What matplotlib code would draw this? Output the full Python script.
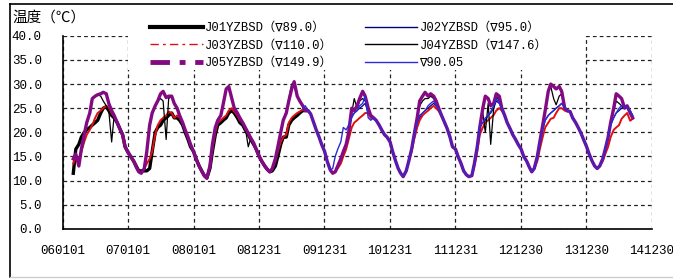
import numpy as np
import pandas as pd
import matplotlib
matplotlib.use('Agg')
import matplotlib.pyplot as plt
from matplotlib.lines import Line2D
from matplotlib.patches import Rectangle

# ------------------------------ data (semi-monthly readings, deg C) ------------------------------
ORIGIN = pd.Timestamp('2006-01-01')

# J01YZBSD (∇89.0), from 2006-03-01
J01_START = '2006-03-01'
J01 = [11.5, 16.5, 17.5, 19.0, 20.0, 20.5, 21.0, 21.5, 22.0, 22.5, 24.0, 25.0, 25.3, 24.5, 23.5, 23.0, 22.0, 20.8, 19.5, 17.0,
       15.8, 15.0, 14.0, 13.0, 12.0, 12.0, 12.0, 12.0, 12.5, 16.0, 20.0, 21.0, 21.5, 22.5, 23.0, 23.5, 24.0, 23.0, 23.0, 22.5, 21.5, 20.0, 18.5, 17.0,
       16.0, 14.5, 13.0, 12.0, 11.0, 10.5, 12.5, 16.0, 19.5, 21.5, 22.0, 22.5, 23.0, 24.0, 24.5, 24.0, 23.0, 22.0, 21.5, 20.5, 19.5, 18.5, 17.5, 16.5,
       15.0, 14.0, 13.0, 12.3, 11.8, 12.0, 13.0, 15.0, 17.5, 19.0, 19.0, 21.5, 22.5, 23.0, 23.5, 24.0, 24.5, 24.5]

# J02YZBSD (∇95.0), from 2010-01-01
J02_START = '2010-01-01'
J02 = [16.0, 14.0, 12.2, 11.5, 11.8, 13.0, 14.5, 16.0, 17.5, 20.0, 23.5, 24.0, 24.5, 25.0, 25.5, 26.0, 24.0, 23.0, 23.0, 22.5, 21.5, 20.5, 19.5, 19.0,
       18.0, 16.0, 14.0, 12.5, 11.5, 10.8, 12.0, 14.0, 16.5, 19.5, 22.0, 23.0, 24.0, 24.5, 25.0, 25.5, 26.0, 25.5, 24.8, 23.5, 22.0, 20.8, 19.0, 17.0,
       16.5, 15.0, 13.5, 12.0, 11.2, 10.8, 11.0, 13.5, 17.0, 21.0, 22.0, 22.5, 23.5, 24.0, 25.0, 26.5, 26.0, 25.0, 23.5, 22.0, 20.7, 19.5, 18.5, 17.5,
       16.5, 15.0, 14.0, 12.8, 11.8, 12.5, 15.0, 18.0, 20.5, 22.5, 23.5, 24.0, 24.5, 25.0, 25.5, 26.0, 25.0, 24.5, 24.3, 23.0, 22.0, 21.0, 19.8, 18.5,
       17.0, 15.5, 14.0, 13.0, 12.5, 13.0, 14.5, 16.5, 19.0, 21.5, 23.0, 24.0, 24.5, 25.0, 25.5, 25.0, 24.5, 23.5]

# J03YZBSD (∇110.0), from 2006-03-01
J03_START = '2006-03-01'
J03 = [13.5, 15.0, 14.0, 16.0, 18.0, 19.5, 20.5, 21.5, 23.0, 24.0, 24.5, 25.0, 25.5, 25.0, 24.0, 23.3, 22.0, 20.8, 19.5, 17.0,
       15.8, 15.0, 14.0, 12.8, 11.8, 11.5, 12.5, 13.5, 14.5, 16.0, 19.5, 21.5, 22.5, 23.0, 23.5, 24.3, 24.0, 23.0, 23.5, 23.0, 22.0, 20.5, 19.0, 17.5,
       16.0, 14.5, 13.0, 12.0, 11.0, 10.5, 13.0, 16.5, 20.0, 22.0, 22.5, 23.0, 23.5, 24.5, 25.0, 24.3, 23.5, 22.5, 22.0, 21.0, 19.8, 18.8, 17.8, 16.5,
       15.0, 14.0, 13.0, 12.3, 11.8, 12.3, 14.0, 16.0, 18.0, 19.0, 19.5, 22.0, 23.0, 23.5, 24.0, 24.3, 24.7, 24.5, 24.3, 23.8, 22.0, 20.5, 19.0, 17.5,
       16.0, 14.0, 12.2, 11.5, 11.8, 12.5, 13.5, 15.0, 16.5, 18.5, 21.0, 22.0, 22.5, 23.0, 23.5, 24.0, 24.0, 23.0, 23.0, 22.5, 21.5, 20.5, 19.5, 19.0,
       18.0, 16.0, 14.0, 12.5, 11.5, 10.8, 12.0, 14.0, 16.0, 18.5, 21.0, 22.5, 23.5, 24.0, 24.5, 25.0, 25.5, 25.0, 24.3, 23.3, 22.0, 20.8, 19.0, 17.0,
       16.5, 15.0, 13.5, 12.0, 11.2, 10.8, 11.0, 13.0, 16.0, 19.5, 21.0, 22.0, 22.5, 23.0, 23.6, 24.5, 25.0, 24.5, 23.5, 22.0, 20.7, 19.5, 18.5, 17.5,
       16.5, 15.0, 14.0, 12.8, 11.8, 12.5, 14.0, 16.5, 19.0, 21.0, 22.0, 22.8, 23.0, 24.0, 25.0, 25.0, 24.5, 24.3, 24.3, 23.0, 22.0, 21.0, 19.8, 18.5,
       17.0, 15.5, 14.0, 13.0, 12.5, 13.0, 14.0, 15.5, 17.0, 19.0, 20.5, 21.0, 21.5, 22.8, 23.5, 24.0, 22.4, 22.8]

# J04YZBSD (∇147.6), from 2006-03-01
J04_START = '2006-03-01'
J04 = [14.5, 15.5, 13.0, 16.5, 19.5, 22.0, 24.0, 27.0, 27.5, 27.8, 27.5, 26.5, 25.5, 24.5, 18.0, 23.5, 22.0, 20.8, 19.5, 17.0,
       15.8, 15.0, 14.0, 12.8, 11.8, 11.5, 12.5, 16.0, 21.5, 24.0, 25.5, 26.5, 27.0, 26.5, 18.5, 27.0, 27.5, 26.0, 25.0, 23.5, 22.0, 20.5, 19.0, 17.5,
       16.0, 14.5, 13.0, 12.0, 11.0, 10.5, 13.0, 17.5, 21.0, 22.5, 23.5, 26.0, 29.0, 29.0, 27.0, 25.0, 24.0, 23.0, 22.0, 21.0, 17.0, 18.8, 17.8, 16.5,
       15.0, 14.0, 13.0, 12.3, 11.8, 12.5, 14.5, 17.0, 20.0, 22.5, 24.0, 27.0, 30.0, 29.5, 27.5, 26.5, 25.5, 24.5, 24.5, 23.8, 22.0, 20.5, 19.0, 17.5,
       16.0, 14.0, 12.2, 11.5, 11.8, 13.0, 14.5, 16.0, 17.5, 20.0, 24.0, 27.0, 25.0, 26.5, 27.0, 26.5, 25.0, 23.5, 23.0, 22.5, 21.5, 20.5, 19.5, 19.0,
       18.0, 16.0, 14.0, 12.5, 11.5, 10.8, 12.0, 14.0, 16.5, 19.5, 23.0, 25.5, 26.5, 27.0, 27.0, 27.5, 27.0, 26.0, 24.8, 23.5, 22.0, 20.8, 19.0, 17.0,
       16.5, 15.0, 13.5, 12.0, 11.2, 10.8, 11.0, 13.5, 17.0, 21.0, 24.0, 20.0, 26.0, 17.5, 25.0, 27.5, 26.5, 25.0, 23.5, 22.0, 20.7, 19.5, 18.5, 17.5,
       16.5, 15.0, 14.0, 12.8, 11.8, 12.5, 15.0, 18.0, 21.5, 24.5, 28.5, 29.5, 27.0, 25.7, 27.5, 28.0, 25.0, 24.5, 24.3, 23.0, 22.0, 21.0, 19.8, 18.5,
       17.0, 15.5, 14.0, 13.0, 12.5, 13.0, 14.5, 16.5, 19.0, 22.0, 24.5, 26.5, 26.0, 25.5, 25.0, 25.0, 24.0, 23.0]

# J05YZBSD (∇149.9), from 2006-03-01
J05_START = '2006-03-01'
J05 = [14.5, 15.5, 13.0, 16.5, 19.5, 22.0, 24.0, 27.0, 27.5, 27.8, 28.0, 28.3, 28.0, 26.0, 24.5, 23.5, 22.0, 20.8, 19.5, 17.0,
       15.8, 15.0, 14.0, 12.8, 11.8, 11.5, 12.5, 16.0, 21.5, 24.0, 25.5, 26.5, 28.0, 28.5, 27.2, 27.5, 27.5, 26.0, 25.0, 23.5, 22.0, 20.5, 19.0, 17.5,
       16.0, 14.5, 13.0, 12.0, 11.0, 10.5, 13.0, 17.5, 21.0, 22.5, 23.5, 26.0, 29.0, 29.5, 27.0, 25.0, 24.0, 23.0, 22.0, 21.0, 19.8, 18.8, 17.8, 16.5,
       15.0, 14.0, 13.0, 12.3, 11.8, 12.5, 14.5, 17.0, 20.0, 22.5, 24.0, 26.5, 29.0, 30.5, 27.5, 26.5, 25.5, 24.5, 24.5, 23.8, 22.0, 20.5, 19.0, 17.5,
       16.0, 14.0, 12.2, 11.5, 11.8, 13.0, 14.5, 16.0, 17.5, 20.0, 25.0, 24.5, 25.5, 27.0, 28.5, 27.5, 25.0, 23.5, 23.0, 22.5, 21.5, 20.5, 19.5, 19.0,
       18.0, 16.0, 14.0, 12.5, 11.5, 10.8, 12.0, 14.0, 16.5, 19.5, 23.0, 26.5, 27.5, 28.3, 27.5, 28.0, 27.5, 26.5, 24.8, 23.5, 22.0, 20.8, 19.0, 17.0,
       16.5, 15.0, 13.5, 12.0, 11.2, 10.8, 11.0, 13.5, 17.0, 21.0, 25.0, 27.5, 27.0, 25.5, 26.0, 28.0, 27.5, 25.0, 23.5, 22.0, 20.7, 19.5, 18.5, 17.5,
       16.5, 15.0, 14.0, 12.8, 11.8, 12.5, 15.0, 18.0, 21.5, 24.5, 28.5, 30.0, 29.5, 29.0, 29.5, 28.5, 25.0, 24.5, 24.3, 23.0, 22.0, 21.0, 19.8, 18.5,
       17.0, 15.5, 14.0, 13.0, 12.5, 13.0, 14.5, 16.5, 19.0, 22.0, 25.0, 28.0, 27.5, 27.0, 25.0, 25.5, 24.0, 23.0]

# ∇90.05, from 2009-09-01
V90_START = '2009-09-01'
V90 = [25.0, 25.5, 24.5, 23.8, 22.0, 20.5, 19.0, 17.5,
       16.0, 14.0, 12.2, 12.5, 15.0, 16.5, 18.0, 21.0, 20.5, 21.5, 23.0, 24.0, 24.5, 25.5, 26.0, 27.5, 23.0, 22.5, 23.0, 22.5, 21.5, 20.5, 19.5, 19.0,
       18.0, 16.0, 14.0, 12.5, 11.5, 10.8, 12.0, 14.0, 16.5, 19.5, 22.0, 23.5, 24.0, 24.5, 25.5, 26.0, 26.5, 25.5, 24.8, 23.5, 22.0, 20.8, 19.0, 17.0,
       16.5, 15.0, 13.5, 12.0, 11.2, 10.8, 11.0, 13.5, 17.0, 21.5, 22.0, 23.0, 23.5, 24.3, 25.5, 27.0, 26.0, 25.0, 23.5, 22.0, 20.7, 19.5, 18.5, 17.5,
       16.5, 15.0, 14.0, 12.8, 11.8, 12.5, 15.0, 18.0, 20.5, 22.5, 23.5, 24.0, 24.5, 25.0, 25.5, 26.0, 25.0, 24.5, 24.3, 23.0, 22.0, 21.0, 19.8, 18.5,
       17.0, 15.5, 14.0, 13.0, 12.5, 13.0, 14.5, 16.5, 19.0, 21.5, 23.0, 24.0, 25.0, 25.5, 25.5, 25.0, 24.5, 23.5]

LABELS = ['J01YZBSD（∇89.0）', 'J02YZBSD（∇95.0）', 'J03YZBSD（∇110.0）',
          'J04YZBSD（∇147.6）', 'J05YZBSD（∇149.9）', '∇90.05']
X_TICK_LABELS = ['060101', '070101', '080101', '081231', '091231',
                 '101231', '111231', '121230', '131230', '141230']
Y_TICKS = [0, 5, 10, 15, 20, 25, 30, 35, 40]
# -------------------------------------------------------------------------


def days(start, vals):
    """Day offsets (since 2006-01-01) of a semi-monthly (1st/15th) series."""
    d = pd.date_range(start, periods=len(vals), freq='SMS')
    return (d - ORIGIN).days.values


W, H = 673, 279
fig = plt.figure(figsize=(W / 100, H / 100), dpi=100)
ax = fig.add_axes([62.7 / W, 1 - 228.7 / H, (651.7 - 62.7) / W, (228.7 - 35.9) / H])

series = [(J01_START, J01, '#000000', 2.4),
          (J02_START, J02, '#000080', 0.9),
          (J03_START, J03, '#e01010', 1.4),
          (J04_START, J04, '#000000', 0.9),
          (J05_START, J05, '#840a84', 2.4),
          (V90_START, V90, '#2b2bd9', 1.0)]
for start, vals, col, lw in series:
    ax.plot(days(start, vals), vals, color=col, lw=lw, solid_joinstyle='round')

ax.set_xlim(0, 365 * 9)
ax.set_ylim(0, 40)
ax.set_xticks([365 * i for i in range(len(X_TICK_LABELS))])
ax.set_xticklabels(X_TICK_LABELS)
ax.set_yticks(Y_TICKS)
ax.set_yticklabels([f'{v:.1f}' for v in Y_TICKS])
ax.tick_params(length=0, labelsize=9, colors='#000000')
ax.tick_params(axis='y', pad=15)
ax.tick_params(axis='x', pad=12)
for lab in ax.get_xticklabels() + ax.get_yticklabels():
    lab.set_family(['Liberation Mono', 'DejaVu Sans Mono'])

ax.grid(True, color='#222222', ls=(0, (3, 2.5)), lw=0.9)
for s in ('top', 'right'):
    ax.spines[s].set_visible(False)
for s in ('left', 'bottom'):
    ax.spines[s].set_linewidth(1.2)

# white area behind the legend (hides the grid there)
fig.patches.append(Rectangle((128 / W, 1 - 70 / H), (585 - 128) / W, 62 / H,
                             transform=fig.transFigure, facecolor='white',
                             edgecolor='none', zorder=2))

handles = [Line2D([], [], color='#000000', lw=3.0),
           Line2D([], [], color='#000080', lw=1.0),
           Line2D([], [], color='#e01010', lw=1.0, ls=(0, (6, 3, 2, 3))),
           Line2D([], [], color='#000000', lw=1.0),
           Line2D([], [], color='#840a84', lw=3.5, ls=(0, (4, 2, 1.2, 2))),
           Line2D([], [], color='#2b2bd9', lw=1.0)]
order = [0, 2, 4, 1, 3, 5]
leg = fig.legend([handles[i] for i in order], [LABELS[i] for i in order],
                 ncol=2, loc='upper left', bbox_to_anchor=(150 / W, 1 - 22 / H),
                 frameon=False, borderpad=0, borderaxespad=0,
                 handlelength=4.3, handletextpad=0.2, labelspacing=0.45,
                 columnspacing=2.6, prop={'family': ['Liberation Mono', 'DejaVu Sans Mono',
                                                     'Noto Sans CJK SC'], 'size': 8.8})
leg.set_zorder(3)

fig.text(12 / W, 1 - 18 / H, '温度（℃）', va='center', ha='left', fontsize=10.5,
         family=['Noto Sans CJK SC', 'DejaVu Sans'])

# outer frame of the picture
fig.lines.append(Line2D([10 / W, 1], [1 - 4 / H] * 2, transform=fig.transFigure,
                        color='black', lw=1.2))
fig.lines.append(Line2D([10 / W] * 2, [1 - 4 / H, 2 / H], transform=fig.transFigure,
                        color='black', lw=1.2))
fig.lines.append(Line2D([10 / W, 1], [2 / H] * 2, transform=fig.transFigure,
                        color='#cccccc', lw=1.0))

fig.savefig('out.png', dpi=100, facecolor='white')
